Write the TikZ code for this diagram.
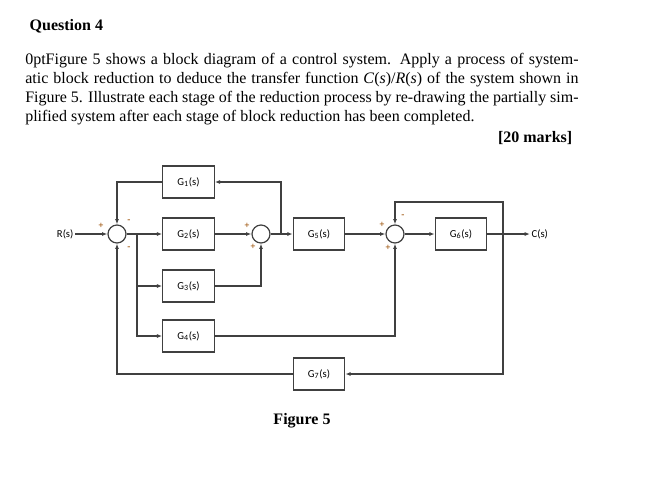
\documentclass[tikz,border=0pt]{standalone}
\usepackage{fontspec}
\setmainfont{Liberation Serif}
\newfontfamily\carfont{Carlito}
\usetikzlibrary{arrows.meta}
\begin{document}
\begin{tikzpicture}[x=0.75pt,y=-0.75pt,
  blk/.style={draw=black!75,line width=0.9pt,minimum width=38.5pt,minimum height=24pt,inner sep=0pt,font=\carfont\fontsize{8}{9}\selectfont},
  sum/.style={draw=black!75,line width=0.9pt,circle,minimum size=13.5pt,inner sep=0pt,fill=white},
  w/.style={draw=black!75,line width=0.8pt},
  a/.style={w,-{Latex[length=4pt,width=3pt]}},
  sg/.style={font=\fontsize{7}{7}\selectfont\bfseries,text=orange!60!black,inner sep=0pt},
  lab/.style={font=\carfont\fontsize{8}{9}\selectfont,inner sep=1pt}]
\useasboundingbox (0,0) rectangle (649,479);
\node[anchor=base west,font=\fontsize{12}{13}\selectfont\bfseries] (q) at (25,30) {Question 4};
\node[anchor=north west,text width=415pt,align=justify,inner sep=0pt,font=\fontsize{12}{14.3}\selectfont\hyphenpenalty=10000\exhyphenpenalty=10000] (p) at (25,53)
{Figure 5 shows a block diagram of a control system. Apply a process of systematic block reduction to deduce the transfer function \textit{C}(\textit{s})/\textit{R}(\textit{s}) of the system shown in Figure~5. Illustrate each stage of the reduction process by re-drawing the partially simplified system after each stage of block reduction has been completed.};
\node[anchor=base east,font=\fontsize{12}{13}\selectfont\bfseries] (m) at (577,142) {[20 marks]};
\node[anchor=base,font=\fontsize{12}{13}\selectfont\bfseries] (f) at (302,424) {Figure 5};
% blocks
\node[blk] (g1) at (188.5,182) {G\textsubscript{1}(s)};
\node[blk] (g2) at (188.5,234) {G\textsubscript{2}(s)};
\node[blk] (g3) at (188.5,286) {G\textsubscript{3}(s)};
\node[blk] (g4) at (188.5,336) {G\textsubscript{4}(s)};
\node[blk] (g5) at (319,234) {G\textsubscript{5}(s)};
\node[blk] (g6) at (461,234) {G\textsubscript{6}(s)};
\node[blk] (g7) at (319,374) {G\textsubscript{7}(s)};
\node[sum] (s1) at (117,234) {};
\node[sum] (s2) at (261,234) {};
\node[sum] (s3) at (395,234) {};
\node[lab,anchor=east] (r) at (75,234) {R(s)};
\node[lab,anchor=west] (c) at (530,234) {C(s)};
\coordinate (b1) at (137,234);
\coordinate (b2) at (281,234);
\coordinate (b3) at (503,234);
% connections
\draw[a] (r) -- (s1);
\draw[w] (s1) -- (b1);
\draw[a] (b1) -- (g2);
\draw[a] (b1) |- (g3);
\draw[a] (b1) |- (g4);
\draw[a] (g2) -- (s2);
\draw[a] (g3) -| (s2);
\draw[a] (s2) -- (g5);
\draw[a] (b2) |- (g1);
\draw[a] (g1) -| (s1);
\draw[a] (g5) -- (s3);
\draw[a] (g4) -| (s3);
\draw[a] (s3) -- (g6);
\draw[a] (g6) -- (c);
\draw[a] (b3) |- (395,202) -- (s3);
\draw[a] (b3) |- (g7);
\draw[a] (g7) -| (s1);
% signs
\node[sg] at (101,226) {+};
\node[sg] at (129,221) {-};
\node[sg] at (129,248) {-};
\node[sg] at (247,226) {+};
\node[sg] at (253,247) {+};
\node[sg] at (382,225) {+};
\node[sg] at (388,248) {+};
\node[sg] at (403,216) {-};
\end{tikzpicture}
\end{document}
